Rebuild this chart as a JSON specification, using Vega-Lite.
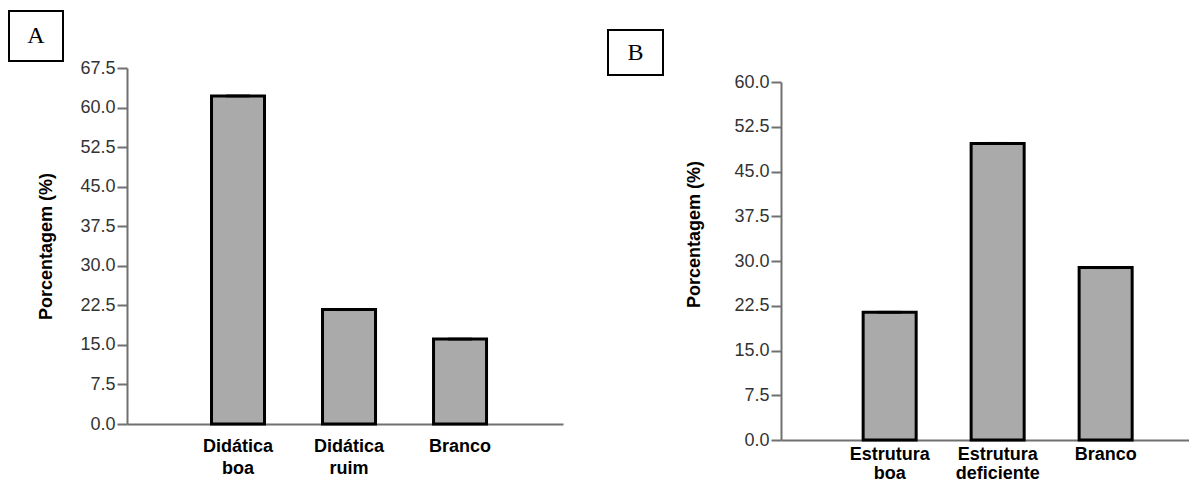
{
  "$schema": "https://vega.github.io/schema/vega-lite/v6.json",
  "padding": {"left": 8, "top": 10, "right": 0, "bottom": 0},
  "background": "white",
  "config": {
    "view": {"stroke": null},
    "font": "Liberation Sans",
    "axis": {"grid": false}
  },
  "datasets": {
    "a": [
      {"categoria": "Didática boa", "porcentagem": 62.2},
      {"categoria": "Didática ruim", "porcentagem": 21.7},
      {"categoria": "Branco", "porcentagem": 16.1}
    ],
    "b": [
      {"categoria": "Estrutura boa", "porcentagem": 21.4},
      {"categoria": "Estrutura deficiente", "porcentagem": 49.7},
      {"categoria": "Branco", "porcentagem": 28.9}
    ],
    "painelA": [{"painel": "A"}],
    "painelB": [{"painel": "B"}]
  },
  "spacing": 44,
  "hconcat": [
    {
      "spacing": -27,
      "hconcat": [
        {
          "data": {"name": "painelA"},
          "width": 54,
          "height": 50,
          "view": {"stroke": "black", "strokeWidth": 2, "fill": "white"},
          "mark": {"type": "text", "font": "Liberation Serif", "fontSize": 24, "color": "black"},
          "encoding": {"text": {"field": "painel", "type": "nominal"}}
        },
        {
          "spacing": 0,
          "vconcat": [
            {"data": {"values": []}, "width": 1, "height": 47.5, "mark": "point"},
            {
              "data": {"name": "a"},
              "width": 436,
              "height": 356,
              "encoding": {
                "x": {
                  "field": "categoria",
                  "type": "nominal",
                  "sort": null,
                  "scale": {"paddingInner": 0.5225, "paddingOuter": 0.725, "align": 0.525},
                  "axis": {
                    "title": null,
                    "labelAngle": 0,
                    "labelExpr": "split(datum.value, ' ')",
                    "ticks": false,
                    "tickSize": 0,
                    "labelPadding": 13,
                    "labelFont": "Liberation Sans",
                    "labelFontSize": 18,
                    "labelFontWeight": "bold",
                    "labelColor": "black",
                    "labelLineHeight": 22,
                    "labelBaseline": "top",
                    "labelOverlap": false,
                    "domainColor": "#707070",
                    "domainWidth": 2
                  }
                },
                "y": {
                  "field": "porcentagem",
                  "type": "quantitative",
                  "scale": {"domain": [0, 67.5], "nice": false},
                  "axis": {
                    "title": "Porcentagem (%)",
                    "values": [0, 7.5, 15, 22.5, 30, 37.5, 45, 52.5, 60, 67.5],
                    "format": ".1f",
                    "labelFlush": false,
                    "labelOverlap": false,
                    "labelFont": "Liberation Sans",
                    "labelFontSize": 18,
                    "labelColor": "#333333",
                    "labelPadding": 2,
                    "tickSize": 10,
                    "tickWidth": 2,
                    "tickColor": "#707070",
                    "domainColor": "#707070",
                    "domainWidth": 2,
                    "titleFont": "Liberation Sans",
                    "titleFontSize": 18,
                    "titleFontWeight": "bold",
                    "titleColor": "black",
                    "titlePadding": 24
                  }
                }
              },
              "layer": [
                {"mark": {"type": "bar", "fill": "#aaaaaa", "stroke": "black", "strokeWidth": 3}},
                {"mark": {"type": "tick", "color": "black", "thickness": 3, "size": 24}}
              ]
            }
          ]
        }
      ]
    },
    {
      "spacing": 21,
      "hconcat": [
        {
          "spacing": 0,
          "vconcat": [
            {"data": {"values": []}, "width": 1, "height": 18, "mark": "point"},
            {
              "data": {"name": "painelB"},
              "width": 55,
              "height": 45,
              "view": {"stroke": "black", "strokeWidth": 2, "fill": "white"},
              "mark": {"type": "text", "font": "Liberation Serif", "fontSize": 24, "color": "black"},
              "encoding": {"text": {"field": "painel", "type": "nominal"}}
            }
          ]
        },
        {
          "spacing": 0,
          "vconcat": [
            {"data": {"values": []}, "width": 1, "height": 61.5, "mark": "point"},
            {
              "data": {"name": "b"},
              "width": 408,
              "height": 358,
              "encoding": {
                "x": {
                  "field": "categoria",
                  "type": "nominal",
                  "sort": null,
                  "scale": {"paddingInner": 0.509, "paddingOuter": 0.6435, "align": 0.591},
                  "axis": {
                    "title": null,
                    "labelAngle": 0,
                    "labelExpr": "split(datum.value, ' ')",
                    "ticks": false,
                    "tickSize": 0,
                    "labelPadding": 5,
                    "labelFont": "Liberation Sans",
                    "labelFontSize": 18,
                    "labelFontWeight": "bold",
                    "labelColor": "black",
                    "labelLineHeight": 19,
                    "labelBaseline": "top",
                    "labelOverlap": false,
                    "domainColor": "#707070",
                    "domainWidth": 2
                  }
                },
                "y": {
                  "field": "porcentagem",
                  "type": "quantitative",
                  "scale": {"domain": [0, 60], "nice": false},
                  "axis": {
                    "title": "Porcentagem (%)",
                    "values": [0, 7.5, 15, 22.5, 30, 37.5, 45, 52.5, 60],
                    "format": ".1f",
                    "labelFlush": false,
                    "labelOverlap": false,
                    "labelFont": "Liberation Sans",
                    "labelFontSize": 18,
                    "labelColor": "#333333",
                    "labelPadding": 2,
                    "tickSize": 10,
                    "tickWidth": 2,
                    "tickColor": "#707070",
                    "domainColor": "#707070",
                    "domainWidth": 2,
                    "titleFont": "Liberation Sans",
                    "titleFontSize": 18,
                    "titleFontWeight": "bold",
                    "titleColor": "black",
                    "titlePadding": 30,
                    "titleY": 152
                  }
                }
              },
              "layer": [
                {"mark": {"type": "bar", "fill": "#aaaaaa", "stroke": "black", "strokeWidth": 3}},
                {"mark": {"type": "tick", "color": "black", "thickness": 3, "size": 24}}
              ]
            }
          ]
        }
      ]
    }
  ]
}
